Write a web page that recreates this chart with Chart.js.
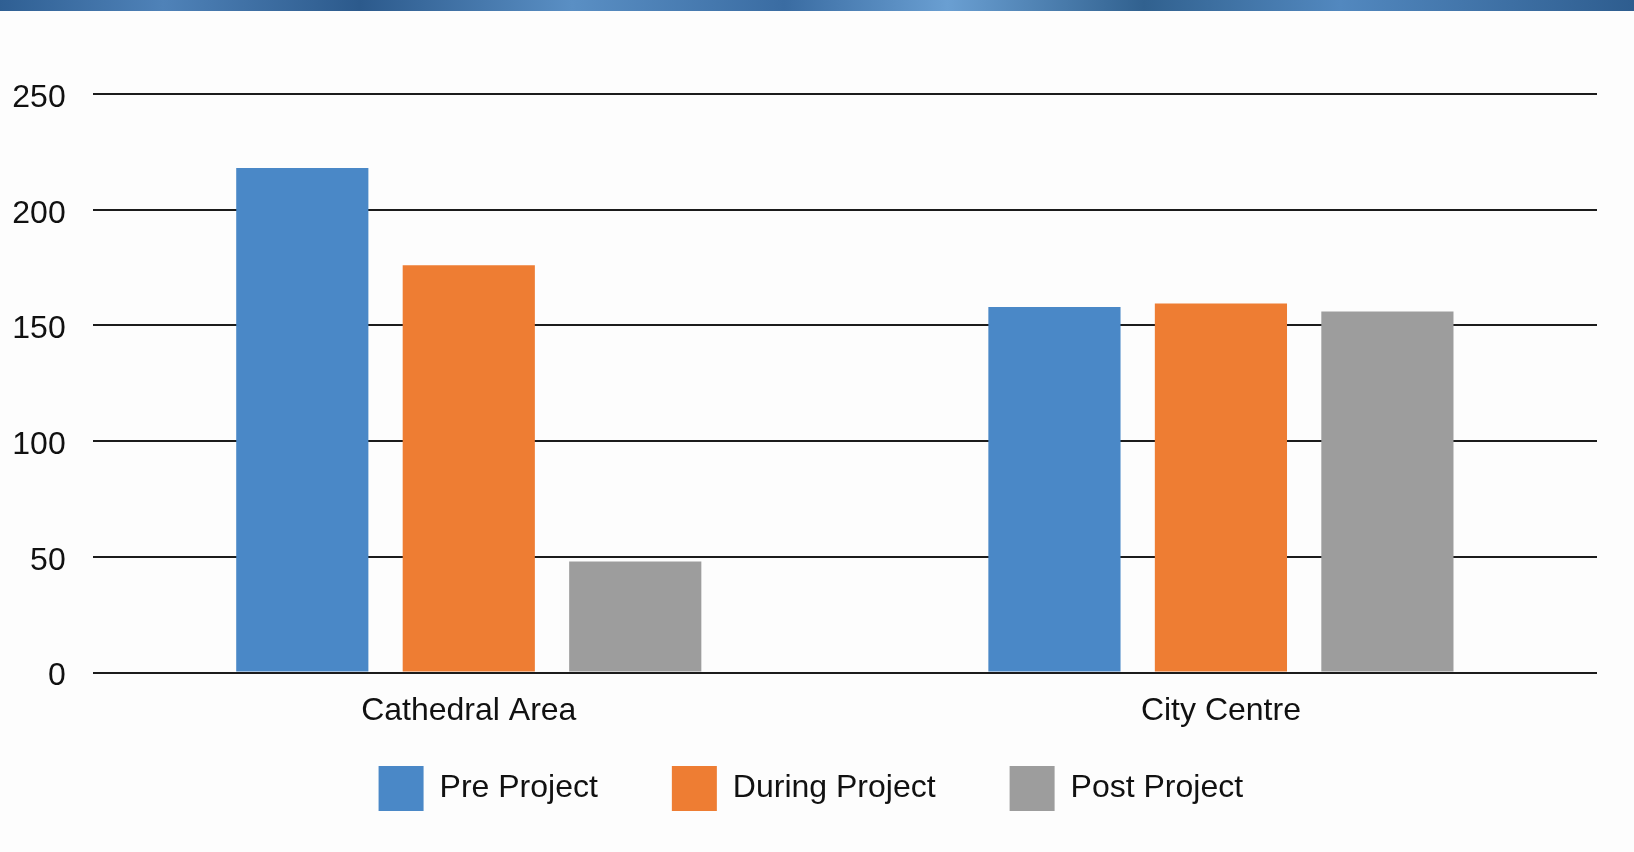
<!DOCTYPE html>
<html>
<head>
<meta charset="utf-8">
<script src="https://cdn.jsdelivr.net/npm/chart.js@4.4.0/dist/chart.umd.min.js"></script>
<style>
  html, body { margin: 0; padding: 0; background: #fdfdfd; }
  #wrap { position: relative; width: 1634px; height: 852px; overflow: hidden; background: #fdfdfd; }
  #strip { position: absolute; left: 0; top: 0; width: 1634px; height: 11px;
    background: linear-gradient(90deg, #2f5f93 0%, #4f82b8 10%, #2c5a8c 22%, #5a8fc4 35%, #3a6ca2 48%, #6a9fd2 58%, #31618f 70%, #5288bf 82%, #2e5d8f 100%); }
  #c { position: absolute; left: 0; top: 0; }
</style>
</head>
<body>
<div id="wrap">
  <div id="strip"></div>
  <canvas id="c" width="1634" height="852"></canvas>
</div>
<script>
const categories = ["Cathedral Area", "City Centre"];
const seriesNames = ["Pre Project", "During Project", "Post Project"];
const preProject = [218, 158];
const duringProject = [176, 159.5];
const postProject = [48, 156];
const yTicks = [0, 50, 100, 150, 200, 250];

const colors = ["#4a88c7", "#ee7d33", "#9d9d9d"];
const FONT = "'Liberation Sans', Arial, Helvetica, sans-serif";
const LEGEND_SHIFT = 49;
const LEGEND_DX = 6;

// Lets the legend keep wide horizontal spacing while sitting closer to the axis labels.
const legendTighten = {
  id: 'legendTighten',
  afterInit(chart) {
    const lg = chart.legend;
    if (!lg) return;
    const fit = lg.fit.bind(lg);
    lg.fit = function () { fit(); this.height -= LEGEND_SHIFT; };
    const draw = lg.draw.bind(lg);
    lg.draw = function () {
      this.top -= LEGEND_SHIFT;
      this.left += LEGEND_DX; this.right += LEGEND_DX;
      draw();
      this.top += LEGEND_SHIFT;
      this.left -= LEGEND_DX; this.right -= LEGEND_DX;
    };
  }
};

new Chart(document.getElementById('c'), {
  type: 'bar',
  plugins: [legendTighten],
  data: {
    labels: categories,
    datasets: [preProject, duringProject, postProject].map((d, i) => ({
      label: seriesNames[i],
      data: d,
      backgroundColor: colors[i],
      borderWidth: 0,
      categoryPercentage: 0.664,
      barPercentage: 0.794
    }))
  },
  options: {
    responsive: false,
    animation: false,
    layout: { padding: { top: 94, left: 12.7, right: 37, bottom: 31 } },
    plugins: {
      tooltip: { enabled: false },
      legend: {
        position: 'bottom',
        labels: {
          boxWidth: 45,
          boxHeight: 45,
          padding: 74,
          color: '#111',
          font: { family: FONT, size: 32 }
        }
      }
    },
    scales: {
      x: {
        grid: { display: false },
        border: { display: false },
        ticks: { color: '#111', font: { family: FONT, size: 32 }, padding: 11 }
      },
      y: {
        min: 0, max: 250,
        afterBuildTicks: (axis) => { axis.ticks = yTicks.map(v => ({ value: v })); },
        afterFit: (axis) => { axis.width = 80; },
        grid: { color: '#1c1c1c', lineWidth: 2, drawTicks: false },
        border: { display: false },
        ticks: { color: '#111', font: { family: FONT, size: 32 }, padding: 27, labelOffset: 4 }
      }
    }
  }
});
</script>
</body>
</html>
